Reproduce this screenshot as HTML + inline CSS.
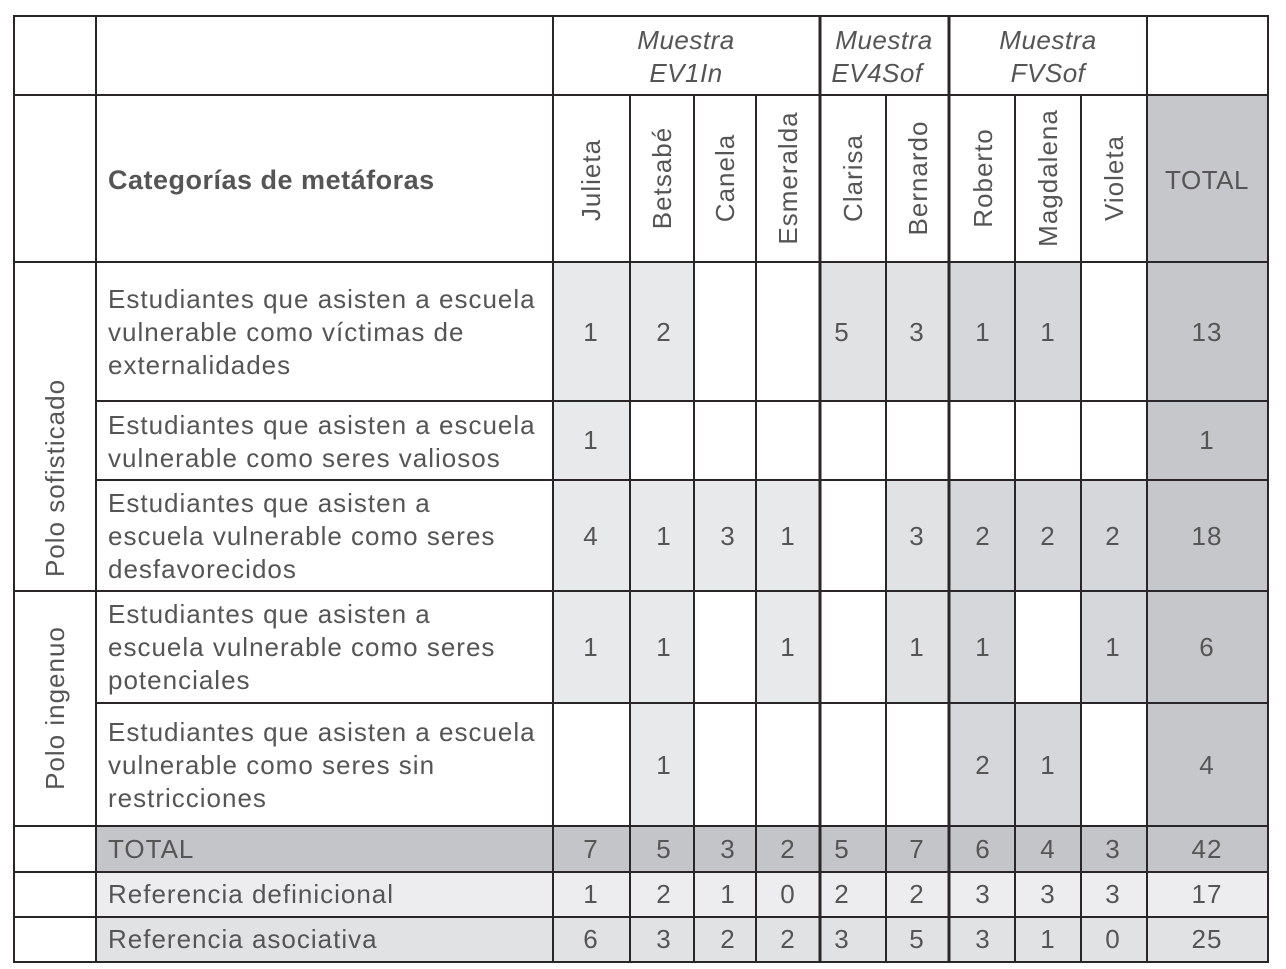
<!DOCTYPE html>
<html><head><meta charset="utf-8"><style>
html,body{margin:0;padding:0;background:#fff;}
svg{display:block;}
text{font-family:"Liberation Sans","DejaVu Sans",sans-serif;fill:#555;}
.t{letter-spacing:1px;}
</style></head><body>
<svg width="1286" height="969" viewBox="0 0 1286 969" xmlns="http://www.w3.org/2000/svg">
<rect width="1286" height="969" fill="#fff"/>
<g id="shade">
<rect x="1147" y="95" width="121" height="731" fill="#c6c7ca"/>
<rect x="553" y="262" width="141" height="139" fill="#e8e9eb"/>
<rect x="820" y="262" width="129" height="139" fill="#e1e2e4"/>
<rect x="949" y="262" width="132" height="139" fill="#d6d7da"/>
<rect x="553" y="401" width="77" height="79" fill="#e8e9eb"/>
<rect x="553" y="480" width="267" height="111" fill="#e8e9eb"/>
<rect x="886" y="480" width="63" height="111" fill="#e1e2e4"/>
<rect x="949" y="480" width="198" height="111" fill="#d6d7da"/>
<rect x="553" y="591" width="141" height="112" fill="#e8e9eb"/>
<rect x="756" y="591" width="64" height="112" fill="#e8e9eb"/>
<rect x="886" y="591" width="63" height="112" fill="#e1e2e4"/>
<rect x="949" y="591" width="66" height="112" fill="#d6d7da"/>
<rect x="1081" y="591" width="66" height="112" fill="#d6d7da"/>
<rect x="630" y="703" width="64" height="123" fill="#e8e9eb"/>
<rect x="949" y="703" width="132" height="123" fill="#d6d7da"/>
<rect x="96" y="826" width="1172" height="46" fill="#c4c5c8"/>
<rect x="96" y="872" width="1172" height="45" fill="#ededef"/>
<rect x="96" y="917" width="1172" height="45" fill="#e1e2e4"/>
</g>
<g stroke="#2a2526" stroke-width="2" fill="none">
<rect x="14" y="16" width="1254" height="946"/>
<line x1="96" y1="16" x2="96" y2="962"/>
<line x1="553" y1="16" x2="553" y2="962"/>
<line x1="820" y1="16" x2="820" y2="962" stroke-width="3"/>
<line x1="949" y1="16" x2="949" y2="962" stroke-width="3"/>
<line x1="1147" y1="16" x2="1147" y2="962"/>
<line x1="630" y1="95" x2="630" y2="962"/>
<line x1="694" y1="95" x2="694" y2="962"/>
<line x1="756" y1="95" x2="756" y2="962"/>
<line x1="886" y1="95" x2="886" y2="962"/>
<line x1="1015" y1="95" x2="1015" y2="962"/>
<line x1="1081" y1="95" x2="1081" y2="962"/>
<line x1="14" y1="95" x2="1268" y2="95"/>
<line x1="14" y1="262" x2="1268" y2="262"/>
<line x1="96" y1="401" x2="1268" y2="401"/>
<line x1="96" y1="480" x2="1268" y2="480"/>
<line x1="14" y1="591" x2="1268" y2="591"/>
<line x1="96" y1="703" x2="1268" y2="703"/>
<line x1="14" y1="826" x2="1268" y2="826"/>
<line x1="14" y1="872" x2="1268" y2="872"/>
<line x1="14" y1="917" x2="1268" y2="917"/>
</g>
<g font-size="26" font-style="italic" text-anchor="middle" style="letter-spacing:0.5px">
<text x="686" y="49">Muestra</text><text x="686" y="82">EV1In</text>
<text x="884" y="49">Muestra</text><text x="877" y="82">EV4Sof</text>
<text x="1048" y="49">Muestra</text><text x="1048" y="82">FVSof</text>
</g>
<text x="108" y="189" font-size="27" font-weight="bold" style="letter-spacing:0.5px">Categorías de metáforas</text>
<text x="1207" y="189" font-size="26" text-anchor="middle" style="letter-spacing:0.5px">TOTAL</text>
<g font-size="26" text-anchor="middle" class="t">
<text transform="translate(600,180) rotate(-90)">Julieta</text>
<text transform="translate(671,178) rotate(-90)">Betsabé</text>
<text transform="translate(734,178) rotate(-90)">Canela</text>
<text transform="translate(797,178) rotate(-90)">Esmeralda</text>
<text transform="translate(862,178) rotate(-90)">Clarisa</text>
<text transform="translate(927,178) rotate(-90)">Bernardo</text>
<text transform="translate(992,178) rotate(-90)">Roberto</text>
<text transform="translate(1057,178) rotate(-90)">Magdalena</text>
<text transform="translate(1123,178) rotate(-90)">Violeta</text>
<text transform="translate(64,478) rotate(-90)">Polo sofisticado</text>
<text transform="translate(64,708) rotate(-90)">Polo ingenuo</text>
</g>
<g font-size="26" class="t">
<text x="108" y="308">Estudiantes que asisten a escuela</text>
<text x="108" y="341">vulnerable como víctimas de</text>
<text x="108" y="374">externalidades</text>
<text x="108" y="434">Estudiantes que asisten a escuela</text>
<text x="108" y="467">vulnerable como seres valiosos</text>
<text x="108" y="512">Estudiantes que asisten a</text>
<text x="108" y="545">escuela vulnerable como seres</text>
<text x="108" y="578">desfavorecidos</text>
<text x="108" y="623">Estudiantes que asisten a</text>
<text x="108" y="656">escuela vulnerable como seres</text>
<text x="108" y="689">potenciales</text>
<text x="108" y="741">Estudiantes que asisten a escuela</text>
<text x="108" y="774">vulnerable como seres sin</text>
<text x="108" y="807">restricciones</text>
<text x="108" y="858">TOTAL</text>
<text x="108" y="903">Referencia definicional</text>
<text x="108" y="948">Referencia asociativa</text>
</g>
<g font-size="26" text-anchor="middle" class="t">
<text x="591" y="341">1</text><text x="664" y="341">2</text><text x="842" y="341">5</text><text x="917" y="341">3</text><text x="983" y="341">1</text><text x="1048" y="341">1</text><text x="1207" y="341">13</text>
<text x="591" y="449">1</text><text x="1207" y="449">1</text>
<text x="591" y="545">4</text><text x="664" y="545">1</text><text x="728" y="545">3</text><text x="788" y="545">1</text><text x="917" y="545">3</text><text x="983" y="545">2</text><text x="1048" y="545">2</text><text x="1113" y="545">2</text><text x="1207" y="545">18</text>
<text x="591" y="656">1</text><text x="664" y="656">1</text><text x="788" y="656">1</text><text x="917" y="656">1</text><text x="983" y="656">1</text><text x="1113" y="656">1</text><text x="1207" y="656">6</text>
<text x="664" y="774">1</text><text x="983" y="774">2</text><text x="1048" y="774">1</text><text x="1207" y="774">4</text>
<text x="591" y="858">7</text><text x="664" y="858">5</text><text x="728" y="858">3</text><text x="788" y="858">2</text><text x="842" y="858">5</text><text x="917" y="858">7</text><text x="983" y="858">6</text><text x="1048" y="858">4</text><text x="1113" y="858">3</text><text x="1207" y="858">42</text>
<text x="591" y="903">1</text><text x="664" y="903">2</text><text x="728" y="903">1</text><text x="788" y="903">0</text><text x="842" y="903">2</text><text x="917" y="903">2</text><text x="983" y="903">3</text><text x="1048" y="903">3</text><text x="1113" y="903">3</text><text x="1207" y="903">17</text>
<text x="591" y="948">6</text><text x="664" y="948">3</text><text x="728" y="948">2</text><text x="788" y="948">2</text><text x="842" y="948">3</text><text x="917" y="948">5</text><text x="983" y="948">3</text><text x="1048" y="948">1</text><text x="1113" y="948">0</text><text x="1207" y="948">25</text>
</g>
</svg>
</body></html>
